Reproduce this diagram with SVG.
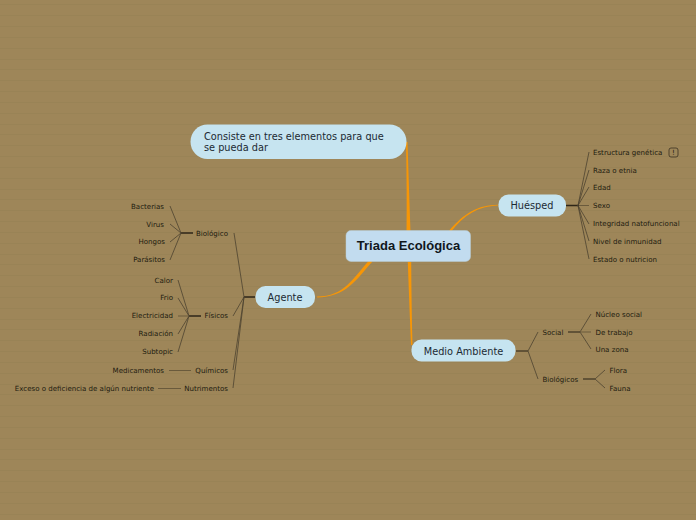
<svg xmlns="http://www.w3.org/2000/svg" width="696" height="520" viewBox="0 0 696 520">
<style>
text{font-family:"DejaVu Sans",Verdana,sans-serif;fill:#221c10}
.s{font-size:7.05px}
.m{font-size:9.75px;fill:#1c2a33}
.t{font-family:"Liberation Sans",Arial,sans-serif;font-size:13px;font-weight:bold;fill:#10171c}
.e{text-anchor:end}
.n{fill:#c6e4f0}
.o{fill:#f79606;stroke:none}
.b{fill:none;stroke:#4d4230;stroke-width:.8}
.h{fill:none;stroke:#2e2618;stroke-width:1.3}
.g{fill:none;stroke:#6a5a3c;stroke-width:1}
</style>
<defs><pattern id="bg" width="696" height="65" patternUnits="userSpaceOnUse"><rect width="696" height="65" fill="#9e8659"/><path d="M0 4.500H696M0 15.500H696M0 26.500H696M0 37.500H696M0 48.500H696M0 59.500H696" stroke="#968053" stroke-opacity=".6" stroke-width="1"/></pattern></defs>
<rect width="696" height="520" fill="url(#bg)"/>
<g id="connectors">
<path class="o" d="M406.500 142L406 142Q407 190 406.500 232H410.500Q409 190 407.500 142Z"/>
<path class="o" d="M407.800 262L411.200 262Q411.500 310 412.500 345H411Q409.500 310 407.800 262Z"/>
<path class="o" d="M448.500 231.500C464 213 478 205 498 204.800V205.500C478 206.500 465 214 450.500 232.500Z"/>
<path class="o" d="M369.500 260C352 279 345 296 317 296.600V297.400C346 297 355 281 372.500 261.500Z"/>
<path class="h" d="M244 297H255M181 233H193M189 316H201M566 205.500H579"/>
<path class="b" d="M244 297L234 233M244 297L233 316M244 297L233 370M244 297L233 388"/>
<path class="b" d="M181 233L170 206M181 233L170 224M181 233L170 242M181 233L170 260"/>
<path class="b" d="M189 316L178 280M189 316L178 298M189 316L178 334M189 316L178 352"/>
<path class="g" d="M178 316H189M169 370.500H191M158 388.500H181M579 205.500H589"/>
<path class="b" d="M578 205.500L589 152M578 205.500L589 170M578 205.500L589 187M578 205.500L589 224M578 205.500L589 241M578 205.500L589 259"/>
<path class="h" style="stroke:#4f432c;stroke-width:1.500" d="M516 351H528M568 332H580M583 379H595"/>
<path class="b" d="M528 351L538 332M528 351L538 379M580 332L591 314M580 332L591 349M595 379L605 370M595 379L605 388"/>
<path class="g" d="M580 332H591"/>
</g>
<g id="root"><rect fill="#c2dcef" stroke="#b8cdd6" stroke-width=".5" x="346" y="230.500" width="124.500" height="31" rx="5"/><text class="t" x="408.500" y="250" text-anchor="middle">Triada Ecológica</text></g>
<g id="nota"><rect class="n" x="190.500" y="124.500" width="216" height="34.500" rx="17"/><text class="m" x="204" y="139.500">Consiste en tres elementos para que</text><text class="m" x="204" y="151">se pueda dar</text></g>
<g id="huesped"><rect class="n" x="498.500" y="194.500" width="67.500" height="22" rx="10"/><text class="m" x="532" y="209" text-anchor="middle">Huésped</text></g>
<g id="agente"><rect class="n" x="255.500" y="286" width="59.500" height="22" rx="10"/><text class="m" x="285" y="301" text-anchor="middle">Agente</text></g>
<g id="medio"><rect class="n" x="411.500" y="339.500" width="104" height="22" rx="10"/><text class="m" x="463.500" y="355" text-anchor="middle">Medio Ambiente</text></g>
<g id="agente-items">
<text class="s e" x="228" y="236">Biológico</text>
<text class="s e" x="228" y="318">Físicos</text>
<text class="s e" x="228" y="373">Químicos</text>
<text class="s e" x="228" y="391">Nutrimentos</text>
<text class="s e" x="164" y="209">Bacterias</text>
<text class="s e" x="164" y="227">Virus</text>
<text class="s e" x="165" y="244">Hongos</text>
<text class="s e" x="165" y="262">Parásitos</text>
<text class="s e" x="173" y="283">Calor</text>
<text class="s e" x="173" y="300">Frio</text>
<text class="s e" x="173" y="318">Electricidad</text>
<text class="s e" x="173" y="336">Radiación</text>
<text class="s e" x="173" y="354">Subtopic</text>
<text class="s e" x="164" y="373">Medicamentos</text>
<text class="s e" x="154" y="391">Exceso o deficiencia de algún nutriente</text>
</g>
<g id="huesped-items">
<text class="s" x="593" y="155">Estructura genética</text>
<rect x="669" y="148" width="9" height="9" rx="2" fill="none" stroke="#3a3122" stroke-width=".8"/><text class="s" x="673.500" y="155" text-anchor="middle">!</text>
<text class="s" x="593" y="173">Raza o etnia</text>
<text class="s" x="593" y="190">Edad</text>
<text class="s" x="593" y="208">Sexo</text>
<text class="s" x="593" y="226">Integridad natofuncional</text>
<text class="s" x="593" y="244">Nivel de inmunidad</text>
<text class="s" x="593" y="262">Estado o nutricion</text>
</g>
<g id="medio-items">
<text class="s" x="542.500" y="335">Social</text>
<text class="s" x="542.500" y="382">Biológicos</text>
<text class="s" x="595.500" y="317">Núcleo social</text>
<text class="s" x="595.500" y="335">De trabajo</text>
<text class="s" x="595.500" y="352">Una zona</text>
<text class="s" x="609.500" y="373">Flora</text>
<text class="s" x="609.500" y="391">Fauna</text>
</g>
</svg>
